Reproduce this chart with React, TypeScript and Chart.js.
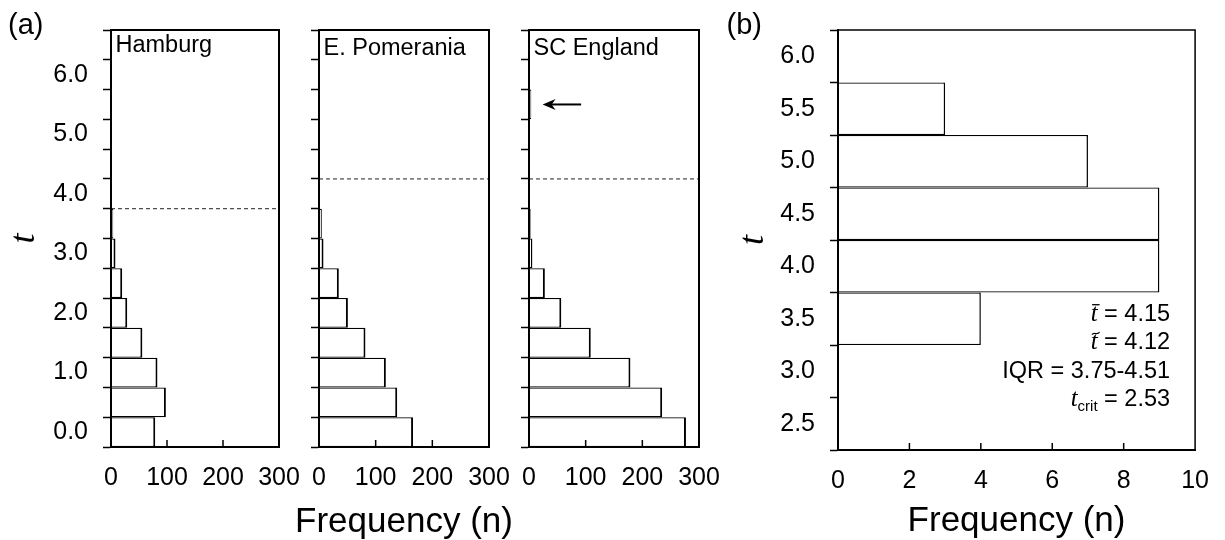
import React, { useEffect, useRef } from "react";
import { Chart, registerables } from "chart.js";

Chart.register(...registerables);

const W = 1225;
const H = 540;
const SANS = "'Liberation Sans', Arial, Helvetica, sans-serif";
const SERIF = "'Liberation Serif', 'Times New Roman', serif";

// ---------------- Panel (a) data ----------------
const binCentersA = [0, 0.5, 1, 1.5, 2, 2.5, 3, 3.5, 4, 4.5, 5, 5.5, 6, 6.5];
const hamburgFreq = [79, 98, 83, 56, 29, 20, 8, 4, 0, 0, 0, 0, 0, 0];
const pomeraniaFreq = [166, 138, 118, 82, 51, 35, 8, 5, 0, 0, 0, 0, 0, 0];
const englandFreq = [277, 235, 179, 109, 57, 28, 6, 3, 0, 0, 0, 4, 0, 0];
const regionNames = ["Hamburg", "E. Pomerania", "SC England"];
const thresholdsA = [3.75, 4.25, 4.25];
const xTicksA = [0, 100, 200, 300];
const yEdgesA = [-0.25, 0.25, 0.75, 1.25, 1.75, 2.25, 2.75, 3.25, 3.75, 4.25, 4.75, 5.25, 5.75, 6.25, 6.75];
const yLabelsA = [0, 1, 2, 3, 4, 5, 6];

// arrow annotation in SC England
const arrowBin = 5.5;
const arrowHeadX = 24;
const arrowTailX = 92;

// ---------------- Panel (b) data ----------------
const binCentersB = [2.5, 3, 3.5, 4, 4.5, 5, 5.5, 6];
const freqB = [0, 0, 4, 9, 9, 7, 3, 0];
const xTicksB = [0, 2, 4, 6, 8, 10];
const yEdgesB = [2.25, 2.75, 3.25, 3.75, 4.25, 4.75, 5.25, 5.75, 6.25];
const yLabelsB = [2.5, 3, 3.5, 4, 4.5, 5, 5.5, 6];
const statMean = "4.15";
const statMedian = "4.12";
const statIQR = "3.75-4.51";
const statTcrit = "2.53";

const axisTitle = "Frequency (n)";
const yTitle = "t";

type Box = { left: number; right: number; top: number; bottom: number };
type Spec = {
  box: Box;
  padLeft: number;
  centers: number[];
  values: number[];
  xTicks: number[];
  yEdges: number[];
  yLabels: number[];
  showYLabels: boolean;
  threshold?: number;
  barBorder: any;
  frameWidth: number;
  yTitle?: string;
  xTitle?: string;
  draw?: (chart: any, ctx: CanvasRenderingContext2D) => void;
};

const near = (a: number, b: number) => Math.abs(a - b) < 1e-6;
const TICK_FONT_SIZE = 25;
const TITLE_FONT_SIZE = 35;

function makeConfig(s: Spec): any {
  const xMin = s.xTicks[0];
  const xMax = s.xTicks[s.xTicks.length - 1];
  const yMin = s.yEdges[0];
  const yMax = s.yEdges[s.yEdges.length - 1];
  const yTickVals = [...s.yEdges, ...s.yLabels].sort((a, b) => a - b);
  const isEdge = (v: number) => s.yEdges.some((e) => near(e, v));
  const isLabel = (v: number) => s.yLabels.some((e) => near(e, v));
  const tickFont = { family: SANS, size: TICK_FONT_SIZE };

  const datasets: any[] = [
    {
      type: "bar",
      data: s.centers.map((c, i) => ({ x: s.values[i], y: c })),
      backgroundColor: "#ffffff",
      borderColor: "#000000",
      borderWidth: s.barBorder,
      borderSkipped: false,
      barThickness: "flex",
      barPercentage: 1,
      categoryPercentage: 1,
      inflateAmount: 0,
      order: 2,
    },
  ];
  if (s.threshold !== undefined) {
    datasets.push({
      type: "line",
      data: [
        { x: xMin, y: s.threshold },
        { x: xMax, y: s.threshold },
      ],
      borderColor: "#222222",
      borderWidth: 1,
      borderDash: [4, 3],
      pointRadius: 0,
      pointHoverRadius: 0,
      fill: false,
      tension: 0,
      order: 1,
    });
  }

  const deco = {
    id: "deco",
    afterDraw(chart: any) {
      const ctx: CanvasRenderingContext2D = chart.ctx;
      const a = chart.chartArea;
      const xs = chart.scales.x;
      ctx.save();
      ctx.strokeStyle = "#000";
      ctx.lineWidth = s.frameWidth;
      ctx.beginPath();
      ctx.moveTo(a.left, a.top);
      ctx.lineTo(a.right, a.top);
      ctx.lineTo(a.right, a.bottom);
      ctx.stroke();
      ctx.lineWidth = 1.5;
      for (const v of s.xTicks.slice(1, -1)) {
        const px = xs.getPixelForValue(v);
        ctx.beginPath();
        ctx.moveTo(px, a.bottom);
        ctx.lineTo(px, a.bottom - 7);
        ctx.stroke();
      }
      if (s.draw) s.draw(chart, ctx);
      ctx.restore();
    },
  };

  return {
    type: "bar",
    data: { datasets },
    options: {
      indexAxis: "y",
      responsive: false,
      animation: false,
      events: [],
      layout: { padding: { left: s.padLeft, right: W - s.box.right, top: s.box.top, bottom: 0 } },
      plugins: { legend: { display: false }, tooltip: { enabled: false } },
      scales: {
        x: {
          type: "linear",
          min: xMin,
          max: xMax,
          afterBuildTicks: (sc: any) => {
            sc.ticks = s.xTicks.map((v) => ({ value: v }));
          },
          afterFit: (sc: any) => {
            sc.height = H - s.box.bottom;
          },
          grid: { display: true, drawOnChartArea: false, drawTicks: false, color: "rgba(0,0,0,0)" },
          border: { display: true, color: "#000", width: 2, z: 1 },
          ticks: { autoSkip: false, maxRotation: 0, padding: 16, font: tickFont, color: "#000" },
          title: {
            display: !!s.xTitle,
            text: s.xTitle || "",
            color: "#000",
            font: { family: SANS, size: TITLE_FONT_SIZE, lineHeight: 1 },
            padding: { top: 0, bottom: 1 },
          },
        },
        y: {
          type: "linear",
          min: yMin,
          max: yMax,
          offset: false,
          afterBuildTicks: (sc: any) => {
            sc.ticks = yTickVals.map((v) => ({ value: v }));
          },
          afterFit: (sc: any) => {
            sc.width = s.box.left - s.padLeft;
          },
          grid: {
            display: true,
            offset: false,
            drawOnChartArea: false,
            drawTicks: true,
            tickLength: 8,
            tickWidth: 1.5,
            color: "rgba(0,0,0,0)",
            tickColor: (ctx: any) => (ctx.tick && isEdge(ctx.tick.value) ? "#000" : "rgba(0,0,0,0)"),
          },
          border: { display: true, color: "#000", width: 2, z: 1 },
          ticks: {
            autoSkip: false,
            padding: 15,
            font: tickFont,
            color: "#000",
            callback: (v: any) => (s.showYLabels && isLabel(Number(v)) ? Number(v).toFixed(1) : ""),
          },
          title: {
            display: !!s.yTitle,
            text: s.yTitle || "",
            color: "#000",
            font: { family: SERIF, style: "italic", size: 36, lineHeight: 1.2 },
            padding: { top: 0, bottom: 0 },
          },
        },
      },
    },
    plugins: [deco],
  };
}

function drawName(ctx: CanvasRenderingContext2D, a: any, name: string, baselineOffset: number) {
  ctx.font = `23.5px ${SANS}`;
  ctx.fillStyle = "#000";
  ctx.textAlign = "left";
  ctx.textBaseline = "alphabetic";
  ctx.fillText(name, a.left + 4.5, a.top + baselineOffset);
}

function drawPanelLetter(ctx: CanvasRenderingContext2D, text: string, x: number, y: number) {
  ctx.font = `29px ${SANS}`;
  ctx.fillStyle = "#000";
  ctx.textAlign = "left";
  ctx.textBaseline = "alphabetic";
  ctx.fillText(text, x, y);
}

type Part = { text: string; font: string; dy?: number; mark?: (x: number, w: number, b: number) => void };

function drawParts(ctx: CanvasRenderingContext2D, parts: Part[], right: number, baseline: number) {
  ctx.textAlign = "left";
  ctx.textBaseline = "alphabetic";
  ctx.fillStyle = "#000";
  const ws = parts.map((p) => {
    ctx.font = p.font;
    return ctx.measureText(p.text).width;
  });
  let x = right - ws.reduce((a, b) => a + b, 0);
  parts.forEach((p, i) => {
    ctx.font = p.font;
    ctx.fillText(p.text, x, baseline + (p.dy || 0));
    if (p.mark) p.mark(x, ws[i], baseline);
    x += ws[i];
  });
}

const PANEL_A_BOXES: Box[] = [
  { left: 111, right: 279, top: 22, bottom: 447 },
  { left: 319, right: 489, top: 22, bottom: 447 },
  { left: 529, right: 699, top: 22, bottom: 447 },
];
const NAME_BASELINES = [22, 25, 25];
const freqsA = [hamburgFreq, pomeraniaFreq, englandFreq];

function buildSpecs(): Spec[] {
  const specs: Spec[] = PANEL_A_BOXES.map((box, i) => ({
    box,
    padLeft: i === 0 ? 3.4 : box.left - 30,
    centers: binCentersA,
    values: freqsA[i],
    xTicks: xTicksA,
    yEdges: yEdgesA,
    yLabels: yLabelsA,
    showYLabels: i === 0,
    threshold: thresholdsA[i],
    barBorder: { top: 1.25, bottom: 1.25, right: 2, left: 0 },
    frameWidth: 2,
    yTitle: i === 0 ? yTitle : undefined,
    draw: (chart, ctx) => {
      const a = chart.chartArea;
      drawName(ctx, a, regionNames[i], NAME_BASELINES[i]);
      if (i === 0) drawPanelLetter(ctx, "(a)", 8, 33.5);
      if (i === 1) {
        // shared x-axis title of panel (a), centred under the middle plot
        ctx.font = `${TITLE_FONT_SIZE}px ${SANS}`;
        ctx.fillStyle = "#000";
        ctx.textAlign = "center";
        ctx.textBaseline = "middle";
        ctx.fillText(axisTitle, (a.left + a.right) / 2, 522);
      }
      if (i === 2) {
        const xs = chart.scales.x;
        const ys = chart.scales.y;
        const y = ys.getPixelForValue(arrowBin);
        const xh = xs.getPixelForValue(arrowHeadX);
        const xt = xs.getPixelForValue(arrowTailX);
        ctx.strokeStyle = "#000";
        ctx.fillStyle = "#000";
        ctx.lineWidth = 2;
        ctx.beginPath();
        ctx.moveTo(xh + 8, y);
        ctx.lineTo(xt, y);
        ctx.stroke();
        ctx.beginPath();
        ctx.moveTo(xh, y);
        ctx.lineTo(xh + 13, y - 5.5);
        ctx.lineTo(xh + 9, y);
        ctx.lineTo(xh + 13, y + 5.5);
        ctx.closePath();
        ctx.fill();
      }
    },
  }));

  specs.push({
    box: { left: 838, right: 1202, top: 22, bottom: 450 },
    padLeft: 732.4,
    centers: binCentersB,
    values: freqB,
    xTicks: xTicksB,
    yEdges: yEdgesB,
    yLabels: yLabelsB,
    showYLabels: true,
    barBorder: { top: 1.2, bottom: 1.2, right: 1.5, left: 0 },
    frameWidth: 1.5,
    yTitle: yTitle,
    xTitle: axisTitle,
    draw: (chart, ctx) => {
      const a = chart.chartArea;
      drawPanelLetter(ctx, "(b)", 726.5, 33.5);
      const R = a.right - 25;
      const numFont = `23.5px ${SANS}`;
      const tFont = `italic 25px ${SERIF}`;
      const macron = (x: number, w: number, b: number) => {
        ctx.strokeStyle = "#000";
        ctx.lineWidth = 1.3;
        ctx.beginPath();
        ctx.moveTo(x + 1.5, b - 16);
        ctx.lineTo(x + w + 2, b - 16);
        ctx.stroke();
      };
      const tilde = (x: number, w: number, b: number) => {
        ctx.strokeStyle = "#000";
        ctx.lineWidth = 1.2;
        ctx.beginPath();
        ctx.moveTo(x + 1.5, b - 14.5);
        ctx.bezierCurveTo(x + 3.5, b - 18, x + 6, b - 13, x + w + 2, b - 17);
        ctx.stroke();
      };
      const b0 = a.bottom - 129.3;
      const step = 28.4;
      drawParts(ctx, [{ text: "t", font: tFont, mark: macron }, { text: ` = ${statMean}`, font: numFont }], R, b0);
      drawParts(ctx, [{ text: "t", font: tFont, mark: tilde }, { text: ` = ${statMedian}`, font: numFont }], R, b0 + step);
      drawParts(ctx, [{ text: `IQR = ${statIQR}`, font: numFont }], R, b0 + 2 * step);
      drawParts(
        ctx,
        [
          { text: "t", font: tFont },
          { text: "crit", font: `15px ${SANS}`, dy: 5.5 },
          { text: ` = ${statTcrit}`, font: numFont },
        ],
        R,
        b0 + 3 * step
      );
    },
  });
  return specs;
}

function ChartCanvas({ spec }: { spec: Spec }) {
  const ref = useRef<HTMLCanvasElement>(null);
  useEffect(() => {
    if (!ref.current) return;
    const chart = new Chart(ref.current, makeConfig(spec));
    return () => chart.destroy();
  }, [spec]);
  return (
    <canvas
      ref={ref}
      width={W}
      height={H}
      style={{ position: "absolute", left: 0, top: 0, width: W, height: H }}
    />
  );
}

const SPECS = buildSpecs();

export default function App() {
  return (
    <div style={{ position: "fixed", left: 0, top: 0, width: W, height: H, background: "#ffffff" }}>
      {SPECS.map((s, i) => (
        <ChartCanvas key={i} spec={s} />
      ))}
    </div>
  );
}
